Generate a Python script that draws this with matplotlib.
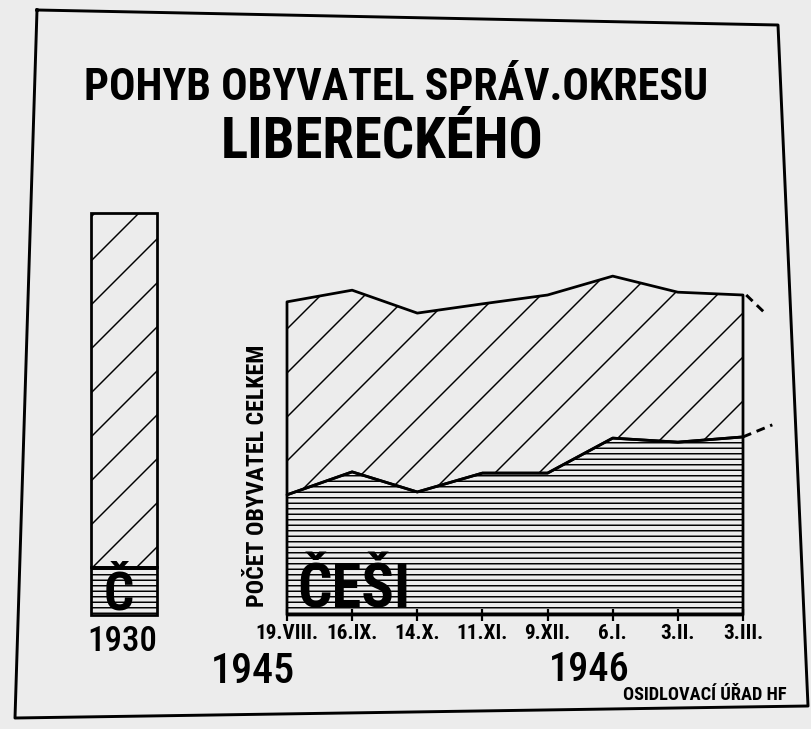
import matplotlib
matplotlib.use("Agg")
import matplotlib.pyplot as plt
import numpy as np
from matplotlib.lines import Line2D

# Population index, 1930 district total = 100 (heights)
dates = ["19.VIII.", "16.IX.", "14.X.", "11.XI.", "9.XII.", "6.I.", "3.II.", "3.III."]
total = [77.9, 80.8, 75.1, 77.4, 79.6, 84.3, 80.3, 79.6]
czech = [29.9, 35.6, 30.6, 35.3, 35.3, 44.0, 43.0, 44.3]
total_1930 = 100.0
czech_1930 = 11.9
# dashed continuation drawn after 3.III.
total_trend = [79.6, 74.6]
czech_trend = [44.3, 47.3]

W, H, DPI = 811, 729, 132
PAPER = "#ececec"
plt.rcParams["font.family"] = ["Roboto Condensed", "Noto Sans", "DejaVu Sans"]
plt.rcParams["font.stretch"] = "condensed"
plt.rcParams["hatch.linewidth"] = 0.8


def box(x0, y0, x1, y1):
    """Axes rect from pixel corners (y measured from top)."""
    return [x0 / W, 1 - y1 / H, (x1 - x0) / W, (y1 - y0) / H]


def fx(x):
    return x / W


def fy(y):
    return 1 - y / H


fig = plt.figure(figsize=(W / DPI, H / DPI), dpi=DPI, facecolor=PAPER)
y_top = (615 - 200) / 4.02

# --- 1945/46 area chart ---
ax = fig.add_axes(box(287, 200, 743, 615))
x = np.arange(len(dates))
ax.fill_between(x, 0, czech, facecolor="none", edgecolor="black",
                hatch="----", lw=1.5, clip_on=False)
ax.fill_between(x, czech, total, facecolor="none", edgecolor="black",
                hatch="/", lw=1.5, clip_on=False)
ax.plot([x[-1] + 0.05, x[-1] + 0.37], total_trend, color="black", lw=1.6,
        ls=(0, (3, 2)), clip_on=False)
ax.plot([x[-1], x[-1] + 0.45], czech_trend, color="black", lw=1.6,
        ls=(0, (3, 2)), clip_on=False)
ax.set_xlim(0, x[-1])
ax.set_ylim(0, y_top)
for s in ax.spines.values():
    s.set_visible(False)
ax.patch.set_visible(False)
ax.set_yticks([])
ax.set_xticks(x, dates, fontsize=11.5, fontweight="bold")
ax.tick_params(axis="x", direction="inout", length=6.5, width=1.2, pad=1.5)

# --- 1930 bar ---
axb = fig.add_axes(box(91, 200, 157, 615))
axb.bar([0], [czech_1930], width=1, facecolor="none", edgecolor="black",
        hatch="----", lw=1.5, clip_on=False)
axb.bar([0], [total_1930 - czech_1930], bottom=[czech_1930], width=1,
        facecolor="none", edgecolor="black", hatch="/", lw=1.5, clip_on=False)
axb.set_xlim(-0.5, 0.5)
axb.set_ylim(0, y_top)
axb.axis("off")

# --- texts ---
fig.text(fx(396), fy(100), "POHYB OBYVATEL SPRÁV.OKRESU", ha="center",
         va="baseline", fontsize=24, fontweight="bold")
fig.text(fx(382), fy(158), "LIBERECKÉHO", ha="center", va="baseline",
         fontsize=31, fontweight="bold")
fig.text(fx(258), fy(476), "POČET OBYVATEL CELKEM", rotation=90,
         ha="center", va="center", fontsize=13, fontweight="bold")
fig.text(fx(297), fy(607), "ČEŠI", ha="left", va="baseline",
         fontsize=33, fontweight="bold")
fig.text(fx(119), fy(610), "Č", ha="center", va="baseline",
         fontsize=29, fontweight="bold")
fig.text(fx(122), fy(651), "1930", ha="center", va="baseline", fontsize=19,
         fontweight="medium")
fig.text(fx(253), fy(683), "1945", ha="center", va="baseline", fontsize=23,
         fontweight="medium")
fig.text(fx(589), fy(681), "1946", ha="center", va="baseline", fontsize=22,
         fontweight="medium")
fig.text(fx(705), fy(700), "OSIDLOVACÍ ÚŘAD HF", ha="center", va="baseline",
         fontsize=10, fontweight="bold")

# --- skewed poster frame ---
frame_x = [37, 778, 808, 15, 37]
frame_y = [10, 25, 706, 718, 10]
fig.add_artist(Line2D([fx(v) for v in frame_x], [fy(v) for v in frame_y],
                      color="black", lw=1.6))

fig.savefig("out.png", dpi=DPI, facecolor=PAPER)
